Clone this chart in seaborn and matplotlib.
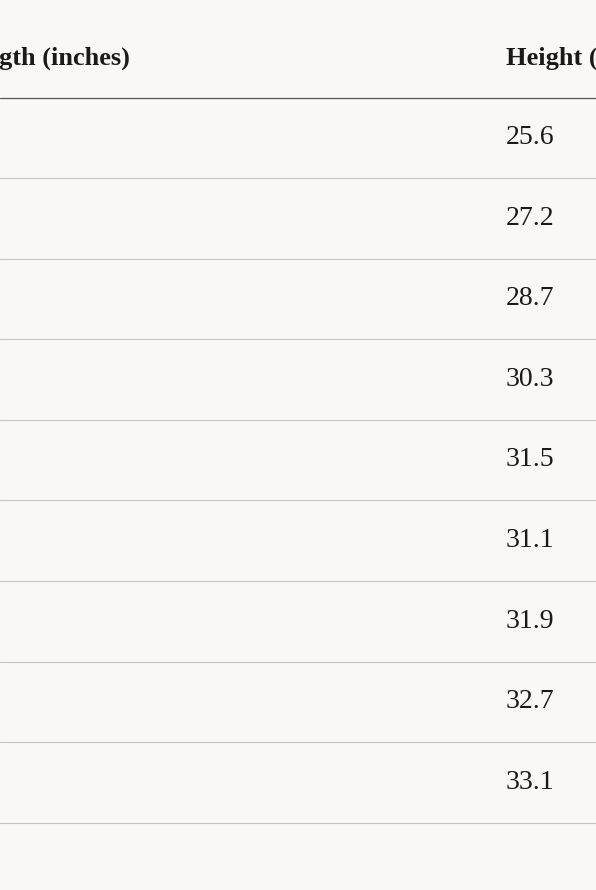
import matplotlib
matplotlib.use("Agg")
import matplotlib.pyplot as plt
import seaborn as sns

sns.set_theme(style="white")
plt.rcParams['font.family'] = ['Liberation Serif', 'DejaVu Serif']

header_left = "Length (inches)"
header_right = "Height (inches)"
heights = [25.6, 27.2, 28.7, 30.3, 31.5, 31.1, 31.9, 32.7, 33.1]

bg = "#f9f8f4"
fig = plt.figure(figsize=(5.96, 8.9), dpi=100, facecolor=bg)
ax = fig.add_axes([0, 0, 1, 1])
ax.set_facecolor(bg)
ax.set_xlim(0, 596)
ax.set_ylim(890, 0)
ax.axis("off")

ax.text(130, 58, header_left, ha="right", va="center", fontsize=19, fontweight="bold", color="#1a1a1a")
ax.text(506, 58, header_right, ha="left", va="center", fontsize=19, fontweight="bold", color="#1a1a1a")
ax.axhline(97.5, color="#555555", lw=0.9)

row_h = 80.6
for i, h in enumerate(heights):
    yc = 137.5 + i * row_h
    ax.text(506, yc, f"{h:.1f}", ha="left", va="center", fontsize=20, color="#1a1a1a")
    ax.axhline(yc + 40.5, color="#c4c4c4", lw=0.8)

fig.savefig("out.png", dpi=100, facecolor=bg)
